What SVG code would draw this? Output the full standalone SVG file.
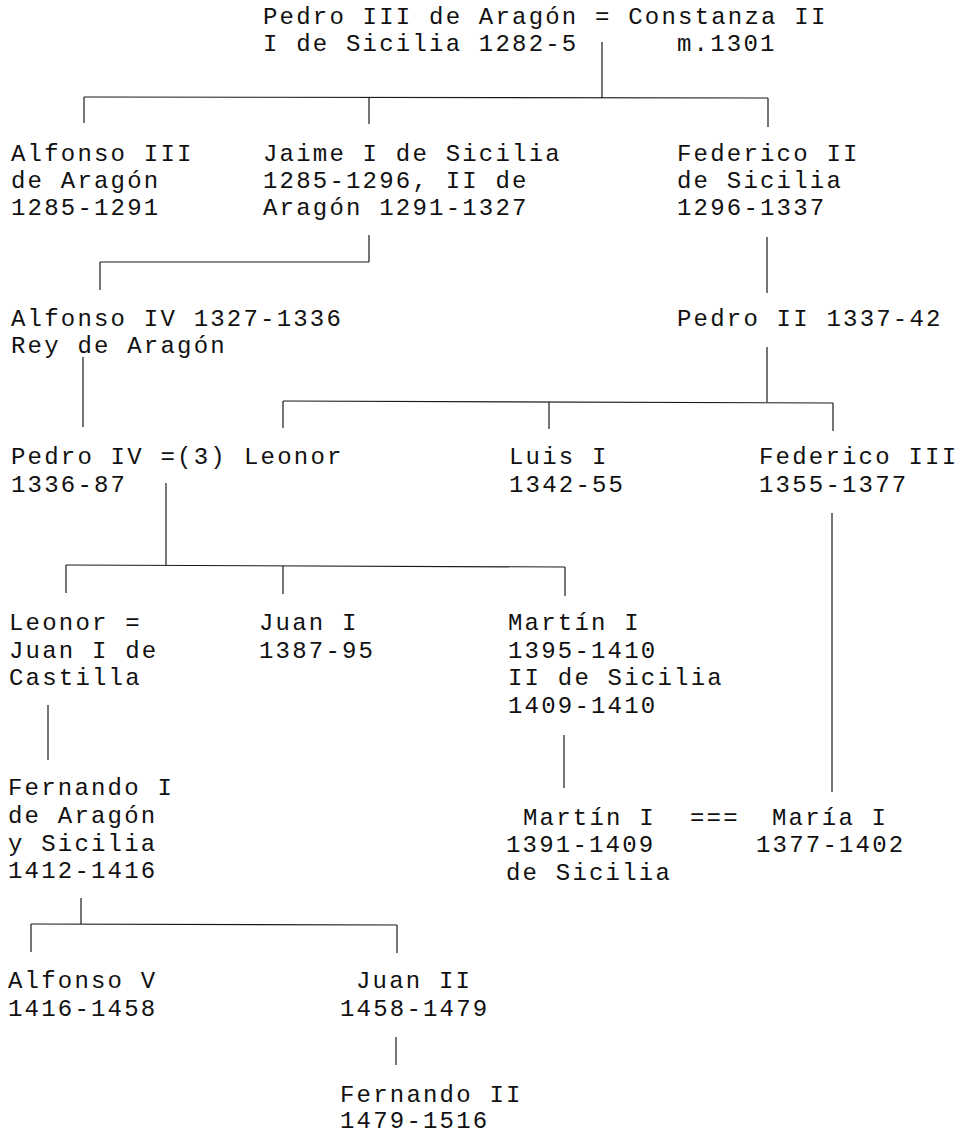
<svg xmlns="http://www.w3.org/2000/svg" width="965" height="1134" viewBox="0 0 965 1134">
<style>
text{font-family:"Liberation Mono","Courier New",monospace;font-size:24px;letter-spacing:2.2px;fill:#111;white-space:pre}
.c line{stroke:#1a1a1a;stroke-width:1.2;fill:none}
</style>
<rect width="965" height="1134" fill="#fff"/>
<g class="c" id="connectors">
<line x1="602" y1="42" x2="602" y2="98"/>
<line x1="84" y1="97" x2="768" y2="98"/>
<line x1="84" y1="97" x2="84" y2="123"/>
<line x1="369" y1="97" x2="369" y2="124"/>
<line x1="768" y1="98" x2="768" y2="127"/>
<line x1="369" y1="235" x2="369" y2="262"/>
<line x1="100" y1="262" x2="369" y2="262"/>
<line x1="100" y1="262" x2="100" y2="290"/>
<line x1="767" y1="237" x2="767" y2="293"/>
<line x1="83" y1="357" x2="83" y2="427"/>
<line x1="767" y1="347" x2="767" y2="402"/>
<line x1="283" y1="401" x2="833" y2="403"/>
<line x1="283" y1="401" x2="283" y2="428"/>
<line x1="549" y1="402" x2="549" y2="429"/>
<line x1="833" y1="403" x2="833" y2="431"/>
<line x1="166" y1="483" x2="166" y2="565"/>
<line x1="66" y1="565" x2="565" y2="567"/>
<line x1="66" y1="565" x2="66" y2="593"/>
<line x1="283" y1="566" x2="283" y2="594"/>
<line x1="565" y1="567" x2="565" y2="596"/>
<line x1="832" y1="513" x2="832" y2="792"/>
<line x1="48" y1="705" x2="48" y2="760"/>
<line x1="564" y1="735" x2="564" y2="788"/>
<line x1="81" y1="898" x2="81" y2="924"/>
<line x1="31" y1="924" x2="397" y2="925"/>
<line x1="31" y1="924" x2="31" y2="952"/>
<line x1="397" y1="925" x2="397" y2="953"/>
<line x1="396" y1="1037" x2="396" y2="1065"/>
</g>
<g id="pedro3">
<text x="263" y="24">Pedro III de Aragón = Constanza II</text>
<text x="263" y="51">I de Sicilia 1282-5</text>
<text x="677" y="51">m.1301</text>
</g>
<g id="alfonso3">
<text x="11" y="161">Alfonso III</text>
<text x="11" y="188">de Aragón</text>
<text x="11" y="215">1285-1291</text>
</g>
<g id="jaime1">
<text x="263" y="161">Jaime I de Sicilia</text>
<text x="263" y="188">1285-1296, II de</text>
<text x="263" y="215">Aragón 1291-1327</text>
</g>
<g id="federico2">
<text x="677" y="161">Federico II</text>
<text x="677" y="188">de Sicilia</text>
<text x="677" y="215">1296-1337</text>
</g>
<g id="alfonso4">
<text x="11" y="326">Alfonso IV 1327-1336</text>
<text x="11" y="353">Rey de Aragón</text>
</g>
<g id="pedro2">
<text x="677" y="326">Pedro II 1337-42</text>
</g>
<g id="pedro4">
<text x="11" y="464">Pedro IV =(3)</text>
<text x="11" y="492">1336-87</text>
</g>
<g id="leonor">
<text x="244" y="464">Leonor</text>
</g>
<g id="luis1">
<text x="509" y="464">Luis I</text>
<text x="509" y="492">1342-55</text>
</g>
<g id="federico3">
<text x="759" y="464">Federico III</text>
<text x="759" y="492">1355-1377</text>
</g>
<g id="leonor2">
<text x="9" y="630">Leonor =</text>
<text x="9" y="658">Juan I de</text>
<text x="9" y="685">Castilla</text>
</g>
<g id="juan1">
<text x="259" y="630">Juan I</text>
<text x="259" y="658">1387-95</text>
</g>
<g id="martin1">
<text x="508" y="630">Martín I</text>
<text x="508" y="658">1395-1410</text>
<text x="508" y="685">II de Sicilia</text>
<text x="508" y="713">1409-1410</text>
</g>
<g id="fernando1">
<text x="8" y="795">Fernando I</text>
<text x="8" y="823">de Aragón</text>
<text x="8" y="851">y Sicilia</text>
<text x="8" y="878">1412-1416</text>
</g>
<g id="martin1s">
<text x="523" y="825">Martín I</text>
<text x="506" y="852">1391-1409</text>
<text x="506" y="880">de Sicilia</text>
</g>
<g id="marriage">
<text x="690" y="825">===</text>
</g>
<g id="maria1">
<text x="772" y="825">María I</text>
<text x="756" y="852">1377-1402</text>
</g>
<g id="alfonso5">
<text x="8" y="988">Alfonso V</text>
<text x="8" y="1016">1416-1458</text>
</g>
<g id="juan2">
<text x="356" y="988">Juan II</text>
<text x="340" y="1016">1458-1479</text>
</g>
<g id="fernando2">
<text x="340" y="1102">Fernando II</text>
<text x="340" y="1128">1479-1516</text>
</g>
</svg>
